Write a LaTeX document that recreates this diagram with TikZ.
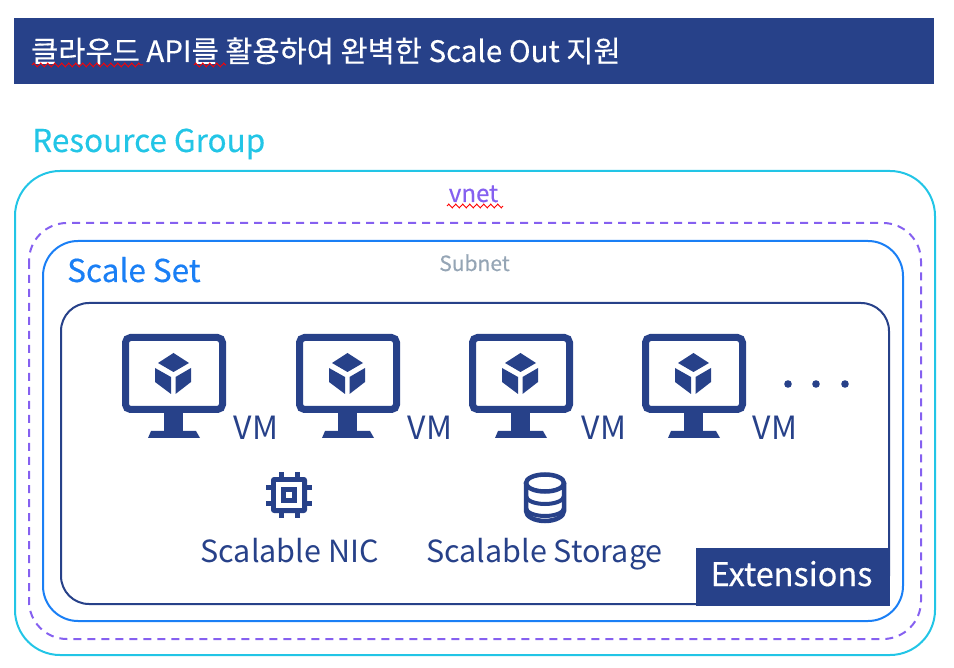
\documentclass[tikz,border=0pt]{standalone}
\usepackage{fontspec}
\setmainfont{Noto Sans CJK KR}
\newfontfamily\medfont[FakeBold=0.35]{Noto Sans CJK KR}
\usetikzlibrary{decorations.pathmorphing}
\definecolor{navy}{HTML}{274189}
\definecolor{rgcyan}{HTML}{22C5E6}
\definecolor{vnetpurple}{HTML}{8560F0}
\definecolor{setblue}{HTML}{1A7FF5}
\definecolor{subgray}{HTML}{95A5B5}
\tikzset{
    boxline/.style={line width=2pt, rounded corners=#1},
    squiggle/.style={red, line width=1pt, decorate, decoration={zigzag, amplitude=1.8pt, segment length=7pt}},
    vmlabel/.style={navy, anchor=base, font=\fontsize{32}{32}\selectfont},
    icontext/.style={navy, anchor=base, font=\fontsize{30.5}{30.5}\selectfont},
    vmicon/.pic={
        \draw[navy, line width=7pt, rounded corners=5pt, fill=white] (3.5, 3.5) rectangle (100.5, 75.5);
        \fill[navy] (42, 79) rectangle (61, 97);
        \fill[navy] (29, 97) -- (74, 97) -- (78, 104) -- (26, 104) -- cycle;
        \fill[navy] (51.5, 19) -- (67, 29) -- (51.5, 38) -- (36, 29) -- cycle;
        \fill[navy] (33, 34) -- (49, 43) -- (49, 60) -- (33, 48) -- cycle;
        \fill[navy] (69, 34) -- (53.5, 43) -- (53.5, 60) -- (69, 48) -- cycle;
    },
}
\begin{document}
\begin{tikzpicture}[x=1pt, y=-1pt]
    \useasboundingbox (0, 0) rectangle (954, 668);
    % header
    \fill[navy] (14, 18) rectangle (934, 84);
    \node[text=white, anchor=base west, inner sep=0pt, font=\fontsize{29.5}{29.5}\selectfont\medfont] (title) at (31, 62) {클라우드 API를 활용하여 완벽한 Scale Out 지원};
    \draw[squiggle] (32, 65) -- (143, 65);
    \draw[squiggle] (194, 65) -- (226, 65);
    \node[rgcyan, anchor=base west, inner sep=0pt, font=\fontsize{31.5}{31.5}\selectfont\medfont] (rglabel) at (32, 152) {Resource Group};
    % nested boxes
    \draw[rgcyan, boxline=45pt] (15, 171) rectangle (935, 655);
    \draw[vnetpurple, boxline=38pt, dash pattern=on 8pt off 6pt] (29, 223) rectangle (921, 639);
    \draw[setblue, boxline=35pt] (43, 241) rectangle (903, 621);
    \draw[navy, boxline=28pt] (61, 303) rectangle (889, 604);
    \node[vnetpurple, anchor=base, font=\fontsize{24}{24}\selectfont\medfont] (vnetlabel) at (473.5, 202) {vnet};
    \draw[squiggle] (447, 206) -- (503, 206);
    \node[subgray, anchor=base, font=\fontsize{21}{21}\selectfont\medfont] (subnetlabel) at (474.5, 271) {Subnet};
    \node[setblue, anchor=base west, inner sep=0pt, font=\fontsize{31.5}{31.5}\selectfont\medfont] (setlabel) at (67, 282) {Scale Set};
    % VMs
    \foreach \px/\lx in {122/256, 296/430, 469/604, 642/775} {
        \pic at (\px, 334) {vmicon};
        \node[vmlabel] (vm\px) at (\lx, 439) {VM};
    }
    \foreach \dx in {788, 816, 845}
        \fill[navy] (\dx, 384) circle (3.8pt);
    % NIC chip
    \foreach \d in {-8, 8} {
        \fill[navy] (289+\d-2.5, 472) rectangle (289+\d+2.5, 518);
        \fill[navy] (266, 495+\d-2.5) rectangle (312, 495+\d+2.5);
    }
    \fill[navy, rounded corners=3pt] (271, 477) rectangle (307, 513);
    \fill[white] (276, 482) rectangle (302, 508);
    \fill[navy] (281, 487) rectangle (297, 503);
    \fill[white] (286, 492) rectangle (292, 498);
    \node[icontext] (nictext) at (289.5, 562) {Scalable NIC};
    % storage
    \draw[navy, line width=4.5pt, fill=white] (526, 483) -- (526, 511) arc[start angle=180, end angle=360, x radius=19, y radius=-10] -- (564, 483);
    \draw[navy, line width=4.5pt, fill=white] (545, 483) ellipse (19 and 8.5);
    \draw[navy, line width=4pt] (526, 496) arc[start angle=180, end angle=360, x radius=19, y radius=-8];
    \draw[navy, line width=4pt] (526, 508) arc[start angle=180, end angle=360, x radius=19, y radius=-8];
    \node[icontext] (storetext) at (544.5, 562) {Scalable Storage};
    % extensions tag
    \fill[navy] (696, 548) rectangle (890, 606);
    \node[text=white, anchor=base, font=\fontsize{32.5}{32.5}\selectfont\medfont] (exttag) at (791.5, 586) {Extensions};
\end{tikzpicture}
\end{document}
